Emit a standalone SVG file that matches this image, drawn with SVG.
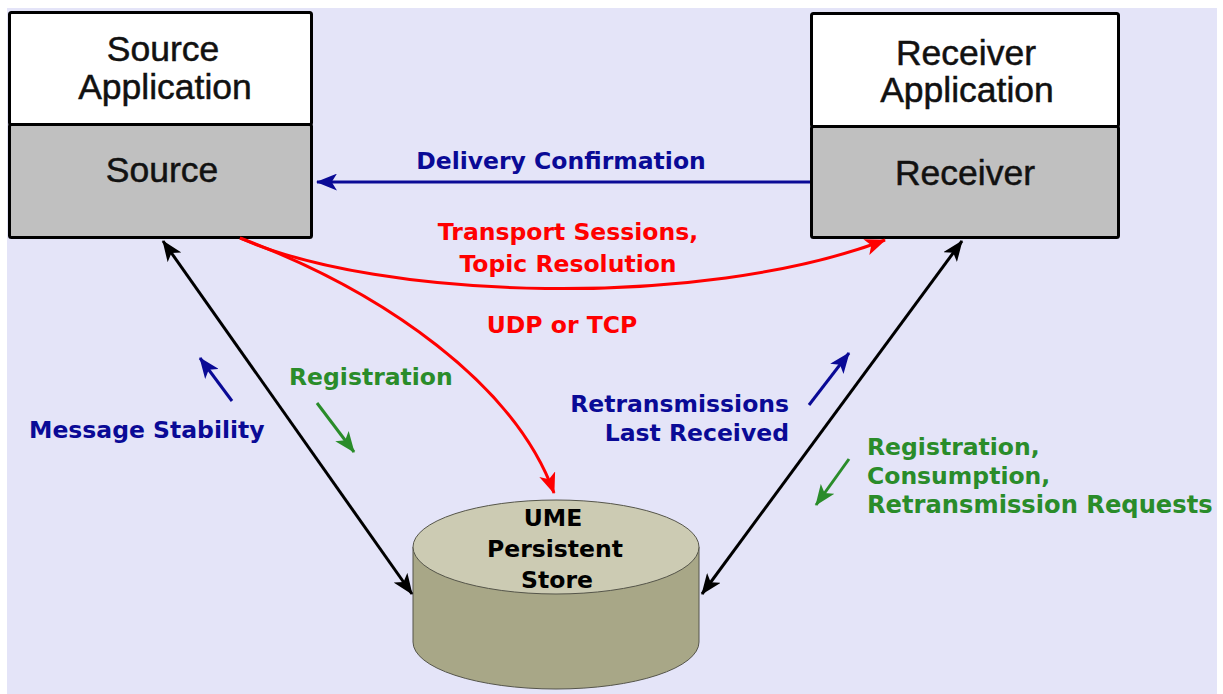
<svg xmlns="http://www.w3.org/2000/svg" width="1223" height="694" viewBox="0 0 1223 694">
<style>
.box{stroke:#000;stroke-width:3}
.big{font-family:"Liberation Sans",Arial,sans-serif;font-size:35.5px;fill:#111;stroke:#111;stroke-width:0.5;text-anchor:middle}
.lbl{font-family:"DejaVu Sans",Verdana,sans-serif;font-weight:bold;font-size:23.5px}
.blue{fill:#0a0a96}
.red{fill:#ff0000}
.green{fill:#2a8c2a}
.mid{text-anchor:middle}
.end{text-anchor:end}
</style>
<defs>
<marker id="hBlack" viewBox="0 0 20 16" refX="19" refY="8" markerWidth="21" markerHeight="17" markerUnits="userSpaceOnUse" orient="auto-start-reverse"><path d="M0,0 L20,8 L0,16 L5,8 Z" fill="#000"/></marker>
<marker id="hRed" viewBox="0 0 20 16" refX="19" refY="8" markerWidth="21" markerHeight="17" markerUnits="userSpaceOnUse" orient="auto"><path d="M0,0 L20,8 L0,16 L5,8 Z" fill="#ff0000"/></marker>
<marker id="hBlue" viewBox="0 0 20 16" refX="19" refY="8" markerWidth="21" markerHeight="17" markerUnits="userSpaceOnUse" orient="auto"><path d="M0,0 L20,8 L0,16 L5,8 Z" fill="#0a0a96"/></marker>
<marker id="hGreen" viewBox="0 0 20 16" refX="19" refY="8" markerWidth="21" markerHeight="17" markerUnits="userSpaceOnUse" orient="auto"><path d="M0,0 L20,8 L0,16 L5,8 Z" fill="#2a8c2a"/></marker>
</defs>
<rect x="0" y="0" width="1223" height="694" fill="#ffffff"/>
<rect x="7" y="8" width="1210" height="686" fill="#e4e4f8"/>

<g id="source">
<rect class="box" x="9.5" y="12.5" width="302" height="112" fill="#ffffff" rx="2"/>
<rect class="box" x="9.5" y="124.5" width="302" height="113" fill="#c0c0c0" rx="2"/>
<text class="big" x="163" y="61">Source</text>
<text class="big" x="165" y="99">Application</text>
<text class="big" x="162" y="182">Source</text>
</g>

<g id="receiver">
<rect class="box" x="811.5" y="13.5" width="307" height="113" fill="#ffffff" rx="2"/>
<rect class="box" x="811.5" y="126.5" width="307" height="111" fill="#c0c0c0" rx="2"/>
<text class="big" x="966" y="65">Receiver</text>
<text class="big" x="967" y="102">Application</text>
<text class="big" x="965" y="185">Receiver</text>
</g>

<g id="store">
<path d="M413,547 V642 A143,47 0 0 0 699,642 V547 Z" fill="#a8a787" stroke="#55554a" stroke-width="1"/>
<ellipse cx="556" cy="547" rx="143" ry="47" fill="#cccbb3" stroke="#55554a" stroke-width="1"/>
<text class="lbl mid" x="553" y="526" fill="#000">UME</text>
<text class="lbl mid" x="555" y="557" fill="#000">Persistent</text>
<text class="lbl mid" x="557" y="588" fill="#000">Store</text>
</g>

<g id="connectors" fill="none">
<path d="M810,182 L317,182" stroke="#0a0a96" stroke-width="3" marker-end="url(#hBlue)"/>
<path d="M240,238 C380,300 700,310 885,240" stroke="#ff0000" stroke-width="3" marker-end="url(#hRed)"/>
<path d="M240,238 C385,292 515,385 554,493" stroke="#ff0000" stroke-width="3" marker-end="url(#hRed)"/>
<path d="M163,241 L412,594" stroke="#000" stroke-width="3" marker-start="url(#hBlack)" marker-end="url(#hBlack)"/>
<path d="M962,241 L702,594" stroke="#000" stroke-width="3" marker-start="url(#hBlack)" marker-end="url(#hBlack)"/>
<path d="M232,401 L200,358" stroke="#0a0a96" stroke-width="3" marker-end="url(#hBlue)"/>
<path d="M317,403 L354,452" stroke="#2a8c2a" stroke-width="3" marker-end="url(#hGreen)"/>
<path d="M809,405 L849,353" stroke="#0a0a96" stroke-width="3" marker-end="url(#hBlue)"/>
<path d="M849,459 L816,505" stroke="#2a8c2a" stroke-width="3" marker-end="url(#hGreen)"/>
</g>

<g id="labels">
<text class="lbl blue mid" x="561" y="169">Delivery Confirmation</text>
<text class="lbl red mid" x="568" y="240">Transport Sessions,</text>
<text class="lbl red mid" x="568" y="272">Topic Resolution</text>
<text class="lbl red mid" x="562" y="333">UDP or TCP</text>
<text class="lbl green" x="289" y="385">Registration</text>
<text class="lbl blue" x="29" y="438">Message Stability</text>
<text class="lbl blue end" x="789" y="412">Retransmissions</text>
<text class="lbl blue end" x="789" y="441">Last Received</text>
<text class="lbl green" x="867" y="455">Registration,</text>
<text class="lbl green" x="867" y="484">Consumption,</text>
<text class="lbl green" x="867" y="513" style="font-size:24.2px">Retransmission Requests</text>
</g>
</svg>
